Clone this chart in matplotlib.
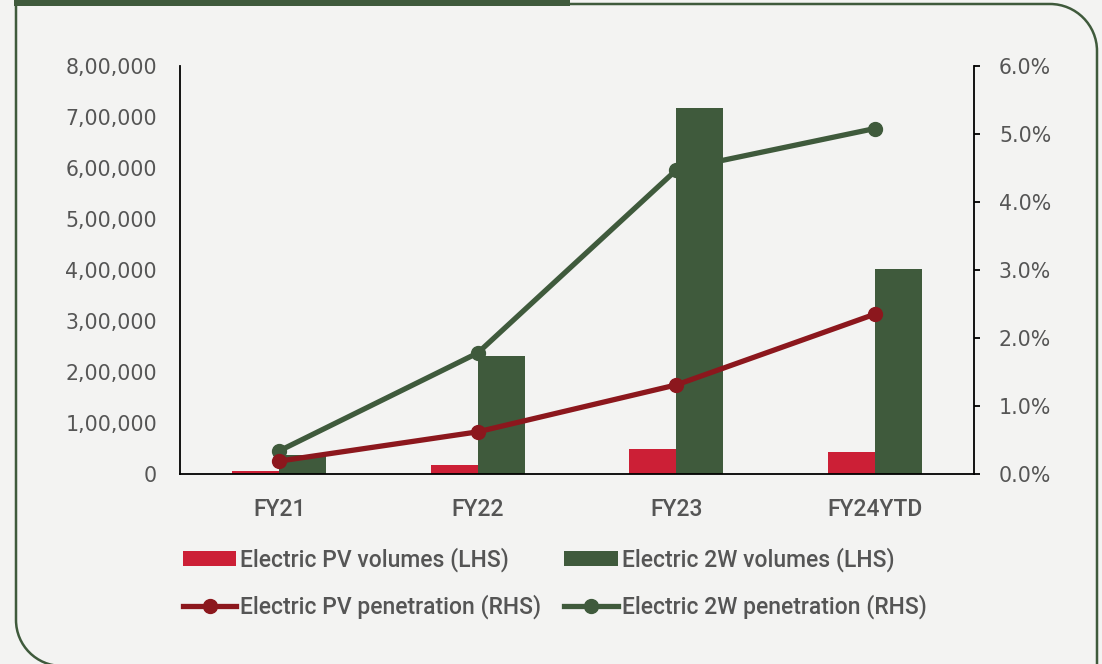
import matplotlib
matplotlib.use("Agg")
import matplotlib.pyplot as plt
import numpy as np
from matplotlib.path import Path
from matplotlib.patches import PathPatch, Rectangle
from matplotlib.lines import Line2D
from matplotlib.ticker import FixedLocator, FuncFormatter

# ---- data ----
categories = ["FY21", "FY22", "FY23", "FY24YTD"]
pv_volumes = [5500, 17500, 48500, 43000]          # Electric PV volumes (LHS)
tw_volumes = [37000, 232000, 718000, 401000]      # Electric 2W volumes (LHS)
pv_penetration = [0.19, 0.62, 1.31, 2.35]         # % (RHS)
tw_penetration = [0.34, 1.78, 4.47, 5.08]         # % (RHS)
lhs_ticks = [0, 100000, 200000, 300000, 400000, 500000, 600000, 700000, 800000]
rhs_ticks = [0, 1, 2, 3, 4, 5, 6]

# ---- style ----
BG = "#f3f3f2"
RED_BAR = "#cc1f36"
GREEN = "#3f5a3c"
RED_LINE = "#8c171d"
TEXT = "#555555"
FONT = "Roboto"
NUM_FONT = "DejaVu Sans"
FS = 16.5
NUM_FS = 14.8

plt.rcParams["font.family"] = FONT
plt.rcParams["font.weight"] = "medium"
W, H = 1102, 664
fig = plt.figure(figsize=(W / 100, H / 100), dpi=100, facecolor=BG)

# background layer in pixel units (origin top-left) for the panel frame
bg = fig.add_axes([0, 0, 1, 1], zorder=-1)
bg.set_xlim(0, W)
bg.set_ylim(H, 0)
bg.axis("off")
bg.set_facecolor("none")

# open panel outline: rounded bottom-left, square top-left, rounded top-right
L, R, T = 16, 1097, 4
r_bl, r_tr = 46, 47
B = 666
k = 0.5523
verts = [
    (L + r_bl, B),
    (L + r_bl - k * r_bl, B), (L, B - r_bl + k * r_bl), (L, B - r_bl),
    (L, T), (R - r_tr, T),
    (R - r_tr + k * r_tr, T), (R, T + r_tr - k * r_tr), (R, T + r_tr),
    (R, H + 20),
]
codes = [Path.MOVETO,
         Path.CURVE4, Path.CURVE4, Path.CURVE4,
         Path.LINETO, Path.LINETO,
         Path.CURVE4, Path.CURVE4, Path.CURVE4,
         Path.LINETO]
bg.add_patch(PathPatch(Path(verts, codes), fill=False, edgecolor=GREEN,
                       linewidth=1.8))
bg.add_patch(Rectangle((14, 0), 556, 5.5, facecolor=GREEN, edgecolor="none"))

# ---- axes ----
ax = fig.add_axes([180 / W, 1 - 474 / H, (974 - 180) / W, (474 - 66) / H])
ax.set_facecolor("none")
x = np.arange(len(categories))
bw = 0.237
ax.bar(x - bw / 2, pv_volumes, width=bw, color=RED_BAR, zorder=2)
ax.bar(x + bw / 2, tw_volumes, width=bw, color=GREEN, zorder=2)
ax.set_xlim(-0.5, len(categories) - 0.5)
ax.set_ylim(0, 800000)

def indian_format(v, _pos=None):
    s = str(int(round(v)))
    if len(s) <= 3:
        return s
    last3, rest = s[-3:], s[:-3]
    groups = []
    while len(rest) > 2:
        groups.insert(0, rest[-2:])
        rest = rest[:-2]
    if rest:
        groups.insert(0, rest)
    return ",".join(groups + [last3])

ax.yaxis.set_major_locator(FixedLocator(lhs_ticks))
ax.yaxis.set_major_formatter(FuncFormatter(indian_format))
ax.set_xticks(x)
ax.set_xticklabels(categories)
ax.tick_params(axis="y", length=0, pad=16.5, labelsize=NUM_FS, labelcolor=TEXT)
ax.tick_params(axis="x", length=0, pad=17.5, labelsize=FS, labelcolor=TEXT)
for lab in ax.get_yticklabels():
    lab.set_fontfamily(NUM_FONT)
    lab.set_fontweight("normal")
for side in ["top", "right"]:
    ax.spines[side].set_visible(False)
for side in ["left", "bottom"]:
    ax.spines[side].set_color("black")
    ax.spines[side].set_linewidth(1.3)

ax2 = ax.twinx()
ax2.set_ylim(0, 6)
ax2.yaxis.set_major_locator(FixedLocator(rhs_ticks))
ax2.yaxis.set_major_formatter(FuncFormatter(lambda v, p: f"{v:.1f}%"))
ax2.tick_params(axis="y", length=4.5, width=1.3, direction="out", pad=13.5,
                labelsize=NUM_FS, labelcolor=TEXT, color="black")
for lab in ax2.get_yticklabels():
    lab.set_fontfamily(NUM_FONT)
    lab.set_fontweight("normal")
for side in ["top", "left", "bottom"]:
    ax2.spines[side].set_visible(False)
ax2.spines["right"].set_color("black")
ax2.spines["right"].set_linewidth(1.3)

ax2.plot(x, tw_penetration, color=GREEN, linewidth=3.8, marker="o",
         markersize=10, solid_capstyle="round", zorder=3)
ax2.plot(x, pv_penetration, color=RED_LINE, linewidth=3.8, marker="o",
         markersize=10, solid_capstyle="round", zorder=4)

# ---- legend ----
handles = [
    Rectangle((0, 0), 1, 1, facecolor=RED_BAR, edgecolor="none"),
    Line2D([], [], color=RED_LINE, linewidth=3.8, marker="o", markersize=10),
    Rectangle((0, 0), 1, 1, facecolor=GREEN, edgecolor="none"),
    Line2D([], [], color=GREEN, linewidth=3.8, marker="o", markersize=10),
]
labels = ["Electric PV volumes (LHS)", "Electric PV penetration (RHS)",
          "Electric 2W volumes (LHS)", "Electric 2W penetration (RHS)"]
leg = fig.legend(handles, labels, ncol=2, frameon=False, fontsize=FS,
                 labelcolor=TEXT, handlelength=2.35, handleheight=0.6,
                 handletextpad=0.16, columnspacing=1.0, labelspacing=0.97,
                 loc="center left", bbox_to_anchor=(162 / W, 1 - 583 / H))

fig.savefig("out.png", dpi=100, facecolor=BG)
